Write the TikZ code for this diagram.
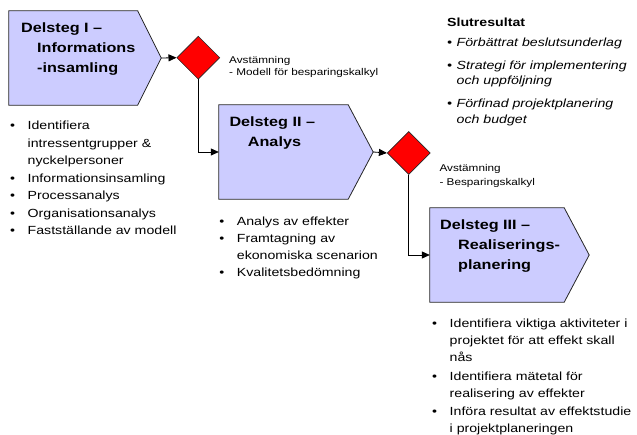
\documentclass[tikz,border=0pt]{standalone}
\usepackage{fontspec}
\setmainfont{Liberation Sans}[FakeStretch=1.2]
\usetikzlibrary{shapes}
\usetikzlibrary{arrows.meta}
\definecolor{lila}{RGB}{204,204,255}
\newcommand{\pkt}[1][17.5pt]{\makebox[#1][l]{\textbullet}}
\newcommand{\inr}[1][17.5pt]{\hspace*{#1}}

\begin{document}
\begin{tikzpicture}[x=1pt,y=-1pt]
\tikzstyle{delsteg}=[rectangle,minimum height=94pt,inner sep=0pt]
\tikzstyle{form}=[draw=black!85,fill=lila,line width=0.8pt]
\tikzstyle{avst}=[diamond,draw=black!85,fill=red,minimum width=43pt,minimum height=43pt,inner sep=0pt,line width=0.6pt]
\tikzstyle{rubrik}=[anchor=base west,inner sep=0pt,align=left,font=\fontsize{13.5}{20}\selectfont\bfseries]
\tikzstyle{lista}=[anchor=base west,inner sep=0pt,align=left,font=\fontsize{11.8}{17.5}\selectfont]
\tikzstyle{notis}=[anchor=base west,inner sep=0pt,align=left,font=\fontsize{9.8}{12}\selectfont]
%pilar
\tikzstyle{pil}=[-{Triangle[length=8pt,width=7pt]},line width=0.8pt]
\useasboundingbox (0,0) rectangle (637,435);
%delsteg och avstamningar
\node[delsteg,minimum width=152pt] (b1) at (85,58) {};
\node[avst] (d1) at (198.3,57.7) {};
\node[delsteg,minimum width=154pt] (b2) at (296,152) {};
\node[avst] (d2) at (408.7,153) {};
\node[delsteg,minimum width=159pt] (b3) at (509.5,255) {};
\draw[form] (b1.north west) -- ([xshift=-23.5pt]b1.north east) -- (b1.east) -- ([xshift=-23.5pt]b1.south east) -- (b1.south west) -- cycle;
\draw[form] (b2.north west) -- ([xshift=-25pt]b2.north east) -- (b2.east) -- ([xshift=-25pt]b2.south east) -- (b2.south west) -- cycle;
\draw[form] (b3.north west) -- ([xshift=-25pt]b3.north east) -- (b3.east) -- ([xshift=-25pt]b3.south east) -- (b3.south west) -- cycle;
%rubriker
\node[rubrik] (r1) at (21,72.4) {Delsteg I –\\\inr[16pt]Informations\\\inr[16pt]-insamling};
\node[rubrik] (r2) at (229.3,147) {Delsteg II –\\\inr[18.4pt]Analys};
\node[rubrik] (r3) at (440,270) {Delsteg III –\\\inr[18pt]Realiserings-\\\inr[18pt]planering};
%listor
\node[lista] (l1) at (10,235) {\pkt Identifiera\\\inr intressentgrupper \&\\\inr nyckelpersoner\\\pkt Informationsinsamling\\\pkt Processanalys\\\pkt Organisationsanalys\\\pkt Fastställande av modell};
\node[lista,font=\fontsize{11.8}{17.05}\selectfont] (l2) at (219.2,276.7) {\pkt Analys av effekter\\\pkt Framtagning av\\\inr ekonomiska scenarion\\\pkt Kvalitetsbedömning};
\node[lista,font=\fontsize{11.8}{17}\selectfont] (l3) at (432,432.7) {\pkt Identifiera viktiga aktiviteter i\\\inr projektet för att effekt skall\\\inr nås\\[1.5pt]\pkt Identifiera mätetal för\\\inr realisering av effekter\\[1.5pt]\pkt Införa resultat av effektstudie\\\inr i projektplaneringen};
\node[lista,font=\fontsize{11.8}{15.5}\selectfont\itshape] (s) at (447,123.4) {{\bfseries\upshape Slutresultat}\\[4.6pt]\pkt[9.5pt]Förbättrat beslutsunderlag\\[7.1pt]\pkt[9.5pt]Strategi för implementering\\\inr[9.5pt]och uppföljning\\[7.6pt]\pkt[9.5pt]Förfinad projektplanering\\\inr[9.5pt]och budget};
%avstamningstexter
\node[notis] (a1) at (229,75.5) {Avstämning\\- Modell för besparingskalkyl};
\node[notis,font=\fontsize{9.8}{14}\selectfont] (a2) at (439.3,185.5) {Avstämning\\- Besparingskalkyl};
%placering av pilar
\draw[pil] (b1.east) -- (d1.west);
\draw[pil] (d1.south) |- (b2.west);
\draw[pil] (b2.east) -- (d2.west);
\draw[pil] (d2.south) |- (b3.west);
\end{tikzpicture}
\end{document}
